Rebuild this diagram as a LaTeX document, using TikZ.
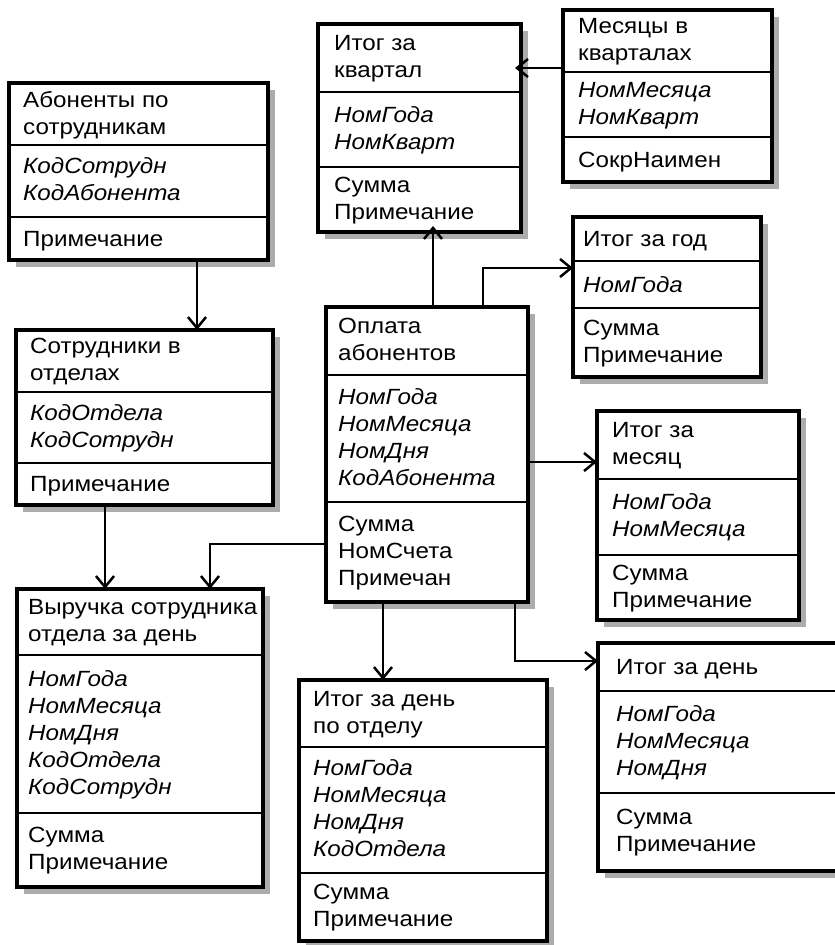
\documentclass[tikz,border=0pt]{standalone}
\usepackage{fontspec}
\setmainfont{Liberation Sans}[FakeStretch=1.1]
\usetikzlibrary{arrows.meta}

% geometry of one table: left/top/right/bottom/divider1/divider2/padding
\def\entgeom#1/#2/#3/#4/#5/#6/#7\relax{%
  \def\eL{#1}\def\eT{#2}\def\eR{#3}\def\eB{#4}%
  \def\eA{#5}\def\eK{#6}\def\eP{#7}}

\newcommand{\entity}[5]{%
  \entgeom#2\relax
  \fill[boxshadow] (\eL+7,\eT+7) rectangle (\eR+7,\eB+7);
  \node[entbox, minimum width={(\eR-\eL)*1pt}, minimum height={(\eB-\eT)*1pt}]
    (#1) at ({(\eL+\eR)/2},{(\eT+\eB)/2}) {};
  \draw[divider] (\eL,\eA) -- (\eR,\eA);
  \draw[divider] (\eL,\eK) -- (\eR,\eK);
  \node[enttext] (#1-t) at (\eL+\eP,{(\eT+\eA)/2}) {#3};
  \node[enttext, keytext] (#1-k) at (\eL+\eP,{(\eA+\eK)/2}) {#4};
  \node[enttext] (#1-a) at (\eL+\eP,{(\eK+\eB)/2}) {#5};
}

\begin{document}
\begin{tikzpicture}[x=1pt, y=-1pt,
  entbox/.style={draw, fill=white, line width=3.2pt, inner sep=0pt, outer sep=0pt},
  divider/.style={line width=2.8pt},
  boxshadow/.style={fill=gray!65},
  enttext/.style={anchor=west, yshift=-2.5pt, align=left, inner sep=0pt,
    font=\fontsize{22}{27}\selectfont,
    execute at begin node=\strut, execute at end node=\strut},
  keytext/.style={font=\fontsize{22}{27}\selectfont\itshape},
  arr/.style={-{Straight Barb[length=11pt, width=18pt]}, line width=2.5pt}]
\path[use as bounding box, clip] (0,0) rectangle (835,945);

\entity{kv}{318/24/521/232/92/167/16}{Итог за\\квартал}{НомГода\\НомКварт}{Сумма\\Примечание}
\entity{mk}{563/10/772/182/72/137/15}{Месяцы в\\кварталах}{НомМесяца\\НомКварт}{СокрНаимен}
\entity{ab}{9/83/268/260/145/217/14}{Абоненты по\\сотрудникам}{КодСотрудн\\КодАбонента}{Примечание}
\entity{st}{16/330/273/505/392/463/14}{Сотрудники в\\отделах}{КодОтдела\\КодСотрудн}{Примечание}
\entity{vy}{17/589/263/887/655/813/11}{Выручка сотрудника\\отдела за день}{НомГода\\НомМесяца\\НомДня\\КодОтдела\\КодСотрудн}{Сумма\\Примечание}
\entity{opl}{326/307/528/602/375/502/12}{Оплата\\абонентов}{НомГода\\НомМесяца\\НомДня\\КодАбонента}{Сумма\\НомСчета\\Примечан}
\entity{year}{573/217/761/377/261/308/10}{Итог за год}{НомГода}{Сумма\\Примечание}
\entity{month}{597/411/799/620/479/555/15}{Итог за\\месяц}{НомГода\\НомМесяца}{Сумма\\Примечание}
\entity{day}{598/643/845/871/691/793/18}{Итог за день}{НомГода\\НомМесяца\\НомДня}{Сумма\\Примечание}
\entity{otd}{299/680/547/941/747/873/14}{Итог за день\\по отделу}{НомГода\\НомМесяца\\НомДня\\КодОтдела}{Сумма\\Примечание}

% links
\draw[arr, shorten >=-6pt] (mk.west |- 0,68) -- (kv.east |- 0,68);
\draw[arr, shorten >=-6pt] (433,0 |- opl.north) -- (433,0 |- kv.south);
\draw[arr] (483,0 |- opl.north) |- (year.west |- 0,268);
\draw[arr] (opl.east |- 0,462) -- (month.west |- 0,462);
\draw[arr] (197,0 |- ab.south) -- (197,0 |- st.north);
\draw[arr] (105,0 |- st.south) -- (105,0 |- vy.north);
\draw[arr] (opl.west |- 0,544) -| (210,0 |- vy.north);
\draw[arr] (383,0 |- opl.south) -- (383,0 |- otd.north);
\draw[arr] (515,0 |- opl.south) |- (day.west |- 0,661);
\end{tikzpicture}
\end{document}
